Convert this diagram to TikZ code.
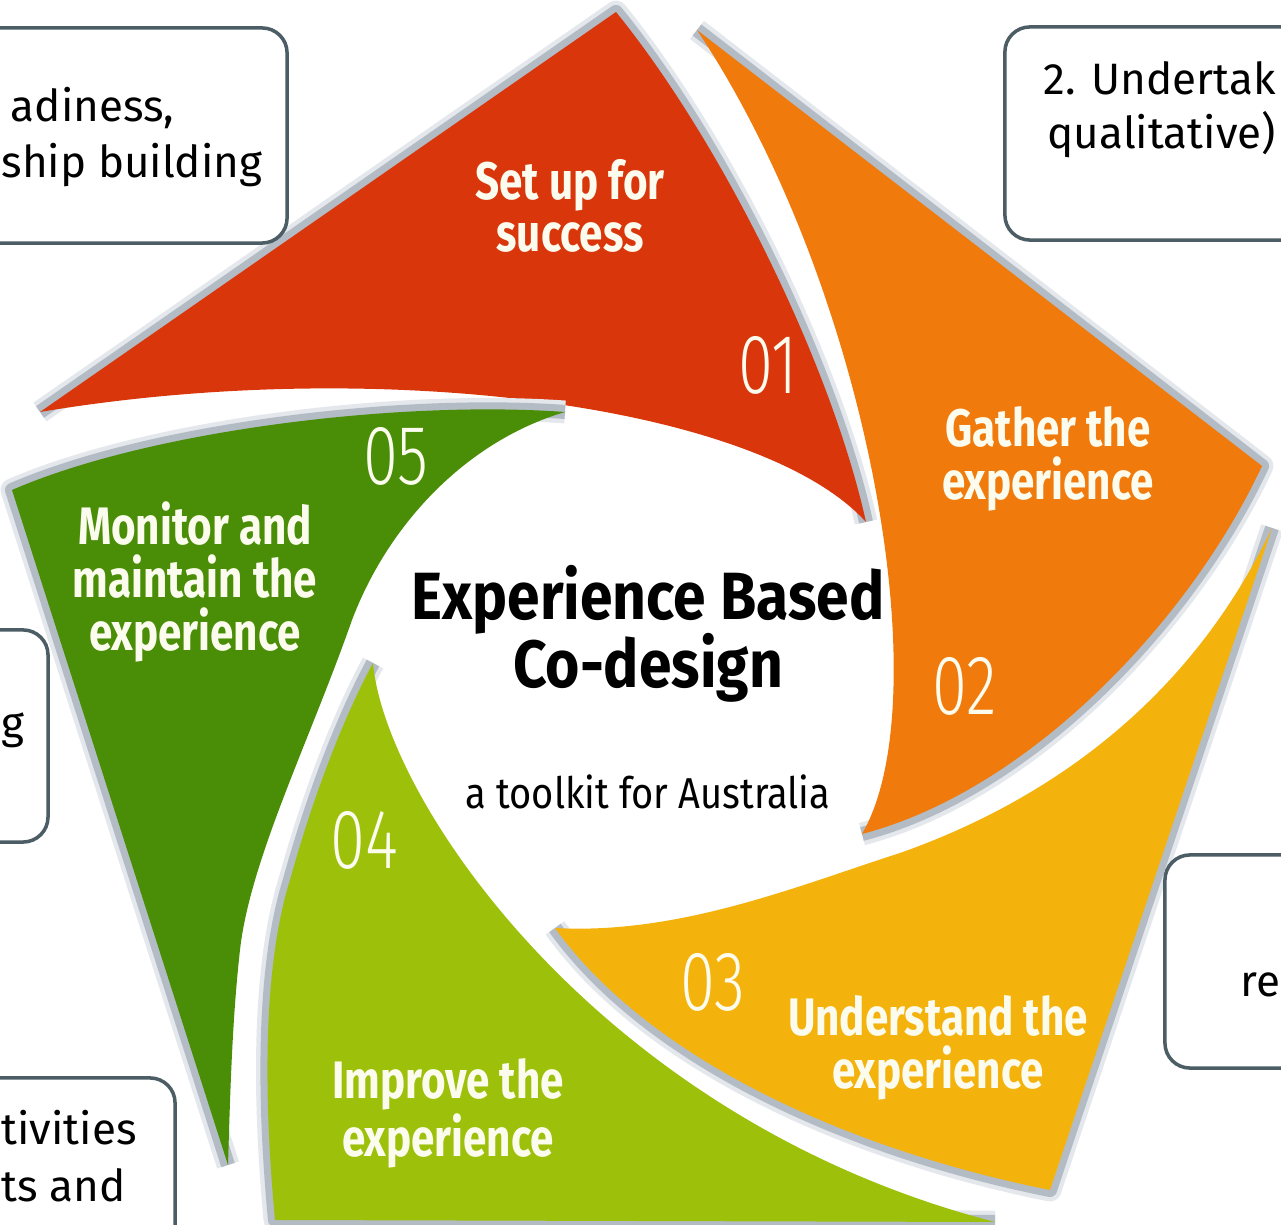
\documentclass[tikz,border=0pt]{standalone}
\usepackage{fontspec}
\setmainfont{Fira Sans}
\newfontfamily\petalfont[FakeStretch=0.8]{Fira Sans}
\newfontfamily\titlefont[FakeStretch=0.88]{Fira Sans}
\newfontfamily\numfont[FakeStretch=0.75]{Fira Sans Light}
\newfontfamily\boxfont{Fira Sans}

\definecolor{stepred}{HTML}{DA360C}
\definecolor{steporange}{HTML}{F07A0B}
\definecolor{stepyellow}{HTML}{F4B20D}
\definecolor{steplime}{HTML}{9DC00A}
\definecolor{stepgreen}{HTML}{4A8D06}
\definecolor{rim}{HTML}{B3BBC5}
\definecolor{boxline}{HTML}{4C5D65}
\definecolor{cream}{HTML}{FCFCEE}

\tikzset{
  rimsoft/.style={draw=rim!35, line width=6.5pt, line join=round},
  rimline/.style={draw=rim, line width=4pt, line join=round},
  steplabel/.style={text=cream, font=\petalfont\bfseries\fontsize{15}{15}\selectfont, align=center},
  stepnum/.style={text=cream, font=\numfont\fontsize{24}{24}\selectfont},
  infobox/.style={draw=boxline, line width=1pt, rounded corners=0.25cm, fill=white},
  infotext/.style={font=\boxfont\fontsize{12.5}{15}\selectfont, anchor=west, inner sep=0pt},
}

\begin{document}
\begin{tikzpicture}[x=0.01cm, y=-0.01cm]
  \useasboundingbox (0,0) rectangle (1281,1225);
  \clip (0,0) rectangle (1281,1225);
  \fill[white] (0,0) rectangle (1281,1225);

  % 01 set up
  \draw[rimsoft] (40,412) -- (616,12) .. controls (720,140) and (830,360) .. (866,522);
  \draw[rimline] (40,412) -- (616,12) .. controls (720,140) and (830,360) .. (866,522);
  \fill[stepred] (40,412) -- (616,12) .. controls (720,140) and (830,360) .. (866,522)
    .. controls (760,405) and (380,355) .. (40,412) -- cycle;

  % 02 gather
  \draw[rimsoft] (697,30) -- (1262,466) .. controls (1190,620) and (1030,790) .. (862,834);
  \draw[rimline] (697,30) -- (1262,466) .. controls (1190,620) and (1030,790) .. (862,834);
  \fill[steporange] (697,30) -- (1262,466) .. controls (1190,620) and (1030,790) .. (862,834)
    .. controls (940,700) and (870,290) .. (697,30) -- cycle;

  % 03 understand
  \draw[rimsoft] (1272,528) -- (1050,1190) .. controls (850,1150) and (650,1060) .. (555,928);
  \draw[rimline] (1272,528) -- (1050,1190) .. controls (850,1150) and (650,1060) .. (555,928);
  \fill[stepyellow] (1272,528) -- (1050,1190) .. controls (850,1150) and (650,1060) .. (555,928)
    .. controls (680,935) and (800,885) .. (900,853)
    .. controls (1050,800) and (1190,700) .. (1272,528) -- cycle;

  % 04 improve
  \draw[rimsoft] (995,1222) -- (275,1220) .. controls (262,1080) and (265,960) .. (290,880)
    .. controls (315,790) and (345,715) .. (373,663);
  \draw[rimline] (995,1222) -- (275,1220) .. controls (262,1080) and (265,960) .. (290,880)
    .. controls (315,790) and (345,715) .. (373,663);
  \fill[steplime] (995,1222) -- (275,1220) .. controls (262,1080) and (265,960) .. (290,880)
    .. controls (315,790) and (345,715) .. (373,663)
    .. controls (385,800) and (600,1120) .. (995,1222) -- cycle;

  % 05 monitor
  \draw[rimsoft] (228,1165) -- (12,490) .. controls (150,430) and (400,400) .. (565,412);
  \draw[rimline] (228,1165) -- (12,490) .. controls (150,430) and (400,400) .. (565,412);
  \fill[stepgreen] (228,1165) -- (12,490) .. controls (150,430) and (400,400) .. (565,412)
    .. controls (470,440) and (390,520) .. (352,620)
    .. controls (310,740) and (250,860) .. (240,950)
    .. controls (232,1020) and (230,1100) .. (228,1165) -- cycle;

  \node[steplabel] (setup) at (570,206) {Set up for\\success};
  \node[stepnum] (n1) at (768,365) {01};
  \node[steplabel] (gather) at (1048,459) {Gather the\\experience};
  \node[stepnum] (n2) at (965,686) {02};
  \node[steplabel] (understand) at (938,1048) {Understand the\\experience};
  \node[stepnum] (n3) at (713,982) {03};
  \node[steplabel] (improve) at (448,1113) {Improve the\\experience};
  \node[stepnum] (n4) at (364,840) {04};
  \node[steplabel] (monitor) at (195,582) {Monitor and\\maintain the\\experience};
  \node[stepnum] (n5) at (396,456) {05};

  \node[font=\titlefont\bfseries\fontsize{19}{19}\selectfont, anchor=base] (title) at (648,620)
    {Experience Based};
  \node[font=\titlefont\bfseries\fontsize{19}{19}\selectfont, anchor=base] (title2) at (648,688)
    {Co-design};
  \node[font=\titlefont\fontsize{12.3}{12}\selectfont] (toolkit) at (648,792) {a toolkit for Australia};

  % side notes
  \node[infobox, minimum width=3.4cm, minimum height=2.15cm] (note1) at (117,135.5) {};
  \node[infotext, anchor=east] (t1a) at (175,108) {adiness,};
  \node[infotext] (t1b) at (1,165) {ship building};

  \node[infobox, minimum width=3.4cm, minimum height=2.13cm] (note2) at (1175,133.5) {};
  \node[infotext] (t2a) at (1043,78) {2. Undertak};
  \node[infotext] (t2b) at (1047,135) {qualitative)};

  \node[infobox, minimum width=1.0cm, minimum height=2.12cm] (note5) at (-2,736) {};
  \node[infotext] (t5) at (1,730) {g};

  \node[infobox, minimum width=1.8cm, minimum height=2.13cm] (note3) at (1255,961.5) {};
  \node[infotext] (t3) at (1240,985) {re};

  \node[infobox, minimum width=2.6cm, minimum height=2.0cm] (note4) at (45,1178) {};
  \node[infotext] (t4a) at (1,1128) {tivities};
  \node[infotext] (t4b) at (1,1185) {ts and};
\end{tikzpicture}
\end{document}
